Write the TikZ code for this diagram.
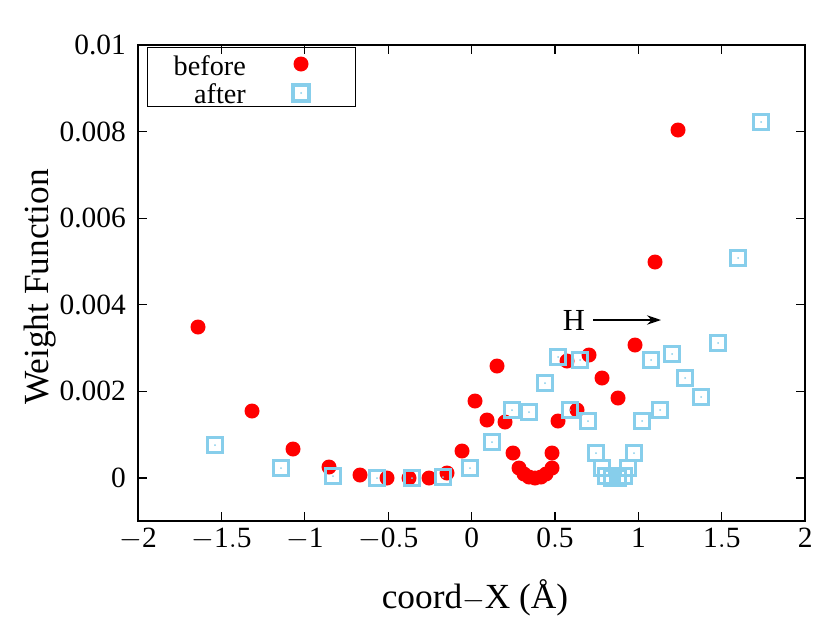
\documentclass[tikz,border=0pt]{standalone}
\usepackage{fontspec}
\setmainfont{Liberation Serif}
\usetikzlibrary{arrows.meta}
\definecolor{skyblue}{RGB}{135,206,235}
\tikzset{
  before/.style={fill=red,draw=none},
  after/.style={draw=skyblue,line width=2.6pt},
  ticklab/.style={font=\fontsize{25}{25}\selectfont}
}
\begin{document}
\begin{tikzpicture}[x=0.85pt,y=-0.85pt]
  \useasboundingbox (0,0) rectangle (830,641);
  % frame and ticks
  \draw[line width=1pt] (138,45) rectangle (805,521);
  \foreach \v [count=\i from 0] in {-2,-1.5,-1,-0.5,0,0.5,1,1.5,2} {
    \pgfmathsetmacro\xp{138+\i*83.4}
    \draw[line width=1pt] (\xp,521) -- (\xp,512) (\xp,45) -- (\xp,54);
    \node[ticklab,below] at (\xp,524) {$\mathrm{\v}$};
  }
  \foreach \v [count=\i from 0] in {-0.001,0,0.002,0.004,0.006,0.008,0.01} {
    \pgfmathsetmacro\yp{ifthenelse(\i==0,521,478-(\i-1)*86.6)}
    \draw[line width=1pt] (138,\yp) -- (147,\yp) (805,\yp) -- (796,\yp);
    \ifnum\i>0 \node[ticklab,left] at (130,\yp) {\v};\fi
  }
  \node[rotate=90,font=\fontsize{30}{30}\selectfont] at (40,287) {Weight Function};
  \node[font=\fontsize{30}{30}\selectfont] at (475,598) {coord$-$X (Å)};
  % legend
  \draw[line width=0.8pt] (147,47) rectangle (355,106);
  \node[font=\fontsize{24}{24}\selectfont,left] at (250,66) {before};
  \node[font=\fontsize{24}{24}\selectfont,left] at (250,94) {after};
  \fill[before] (301,64) circle (7.5);
  \draw[after] (293,85) rectangle (309,101);
  \fill[skyblue] (301,93) circle (1);
  % before
  \foreach \px/\py in {198/327,252/411,293/449,329/467,360/475,387/478,409/478,429/478,
      447/473,462/451,475/401,487/420,497/366,505/422,513/453,519/468,524/474,529/477,
      535/478,541/477,546/474,552/468,552/453,558/421,567/361,589/355,577/410,602/378,
      618/398,635/345,655/262,678/130}
    \fill[before] (\px,\py) circle (7.5);
  % after
  \foreach \px/\py in {215/445,281/468,333/476,377/478,412/478,443/477,470/468,492/442,
      512/410,529/412,545/383,558/357,580/360,570/410,588/421,596/453,602/468,606/476,
      612/478,618/478,624/476,628/468,634/453,642/421,651/360,660/410,672/354,685/378,
      701/397,718/343,738/258,761/122} {
    \draw[after] (\px-7.5,\py-7.5) rectangle (\px+7.5,\py+7.5);
    \fill[skyblue] (\px,\py) circle (1);
  }
  % annotation
  \node[font=\fontsize{26}{26}\selectfont] (h) at (574,320) {H};
  \coordinate (hend) at (661,320);
  \draw[-{Stealth[length=12pt,width=8pt]},line width=1.2pt] (h.east) ++(4,0) -- (hend);
\end{tikzpicture}
\end{document}
